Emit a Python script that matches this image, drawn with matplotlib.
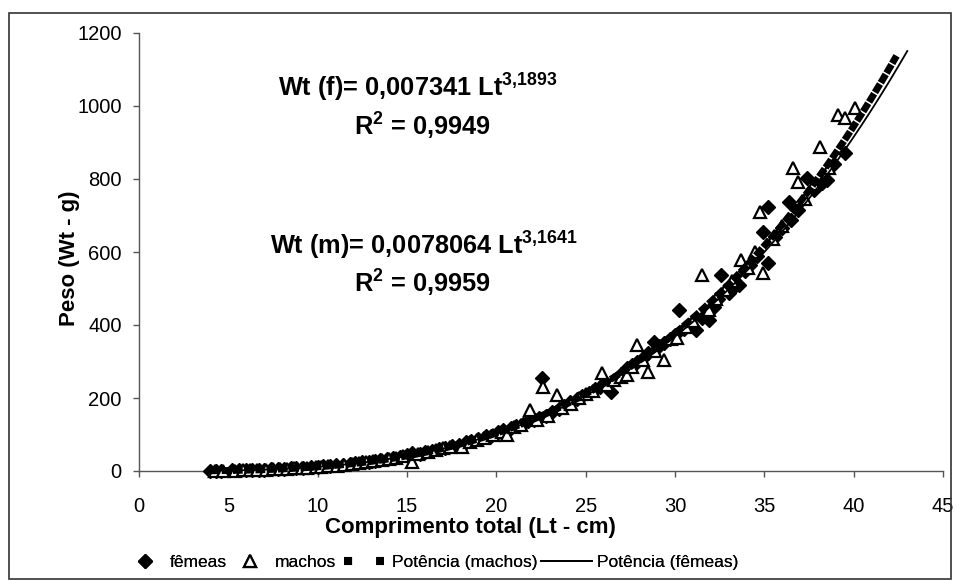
import numpy as np
import matplotlib
matplotlib.use("Agg")
import matplotlib.pyplot as plt
from matplotlib.lines import Line2D
from matplotlib.patches import Rectangle

plt.rcParams['font.family'] = ['Liberation Sans', 'DejaVu Sans']
plt.rcParams['mathtext.fontset'] = 'custom'
plt.rcParams['mathtext.rm'] = 'Liberation Sans'
plt.rcParams['mathtext.bf'] = 'Liberation Sans:bold'
plt.rcParams['mathtext.it'] = 'Liberation Sans:italic'

# ---- data ----
femeas_lt = [4.0, 4.3, 4.6, 5.2, 5.6, 6.0, 6.3, 6.7, 7.0, 7.4, 7.8, 8.1, 8.5, 8.8, 9.2, 9.6,
             10.0, 10.3, 10.7, 11.0, 11.4, 11.8, 12.1, 12.5, 12.9, 13.2, 13.5, 13.9, 14.2, 14.6,
             15.0, 15.3, 15.7, 16.0, 16.4, 16.8, 17.1, 17.5, 17.9, 18.3, 18.6, 19.0, 19.4, 19.7,
             20.1, 20.4, 20.8, 21.1, 21.5, 21.8, 22.1, 22.55, 22.4, 22.8, 23.1, 23.5, 23.8, 24.1,
             24.5, 24.8, 25.2, 25.5, 25.8, 26.1, 26.4, 26.7, 27.0, 27.3, 27.6, 27.9, 28.2, 28.5,
             28.8, 29.1, 29.4, 29.7, 30.0, 30.2, 30.5, 30.8, 31.2, 31.5, 31.9, 32.2, 32.6, 32.4,
             33.0, 33.3, 33.6, 33.9, 34.2, 34.6, 34.9, 35.2, 35.2, 35.6, 36.0, 36.4, 36.5, 36.9,
             37.4, 37.8, 38.2, 38.5, 38.9, 39.5]
femeas_wt = [0.6, 0.8, 1.0, 1.4, 1.8, 2.3, 2.6, 3.1, 3.8, 4.4, 5.2, 5.8, 6.9, 7.5, 8.8, 9.8,
             11.5, 12.8, 14.0, 15.8, 17.2, 19.6, 21.0, 23.5, 25.0, 28.0, 30.5, 32.0, 35.5, 38.0,
             44.0, 50.0, 47.0, 52.0, 56.0, 60.0, 63.0, 68.0, 72.0, 79.0, 82.0, 88.0, 95.0, 97.0,
             106.0, 112.0, 118.0, 124.0, 128.0, 136.0, 140.0, 255.0, 146.0, 152.0, 163.0, 170.0, 178.0, 190.0,
             196.0, 205.0, 213.0, 225.0, 230.0, 244.0, 216.0, 252.0, 266.0, 283.0, 290.0, 300.0, 310.0, 322.0,
             353.0, 342.0, 350.0, 362.0, 372.0, 441.0, 390.0, 400.0, 386.0, 420.0, 414.0, 448.0, 537.0, 470.0,
             488.0, 505.0, 510.0, 548.0, 565.0, 590.0, 655.0, 570.0, 723.0, 640.0, 665.0, 737.0, 688.0, 715.0,
             803.0, 770.0, 790.0, 797.0, 840.0, 871.0]

machos_lt = [4.25, 4.7, 5.4, 5.8, 6.2, 6.6, 7.1, 7.5, 7.9, 8.3, 8.7, 9.1, 9.4, 9.9, 10.2, 10.6,
             11.1, 11.5, 11.9, 12.3, 12.7, 13.1, 13.6, 14.0, 14.4, 14.8, 15.3, 15.6, 16.2, 16.6,
             17.0, 17.4, 18.1, 18.5, 18.9, 19.3, 19.8, 20.3, 20.6, 21.0, 21.4, 21.9, 22.3, 22.6,
             22.9, 23.4, 23.7, 24.2, 24.6, 25.0, 25.4, 25.9, 26.2, 26.6, 27.0, 27.3, 27.6, 27.9,
             28.2, 28.5, 28.9, 29.4, 29.8, 30.1, 30.6, 31.0, 31.5, 31.9, 32.3, 32.8, 33.2, 33.7,
             34.1, 34.5, 34.75, 34.9, 35.5, 36.0, 36.6, 36.9, 37.3, 37.8, 38.1, 38.6, 39.1, 39.5, 40.1]
machos_wt = [0.5, 0.9, 1.3, 1.6, 2.3, 2.7, 3.6, 4.6, 5.0, 6.1, 7.0, 8.2, 9.4, 10.5, 12.0, 13.0,
             15.0, 17.0, 19.0, 22.0, 24.0, 26.5, 30.0, 32.5, 36.0, 40.5, 25.0, 46.0, 53.0, 58.0,
             62.0, 66.0, 66.0, 80.0, 85.0, 91.0, 100.0, 108.0, 99.0, 121.0, 127.0, 167.0, 140.0, 230.0,
             150.0, 208.0, 173.0, 183.0, 200.0, 211.0, 218.0, 268.0, 236.0, 248.0, 258.0, 263.0, 285.0, 345.0,
             305.0, 271.0, 330.0, 304.0, 362.0, 364.0, 395.0, 410.0, 537.0, 440.0, 470.0, 495.0, 520.0, 578.0,
             555.0, 600.0, 710.0, 542.0, 635.0, 672.0, 830.0, 792.0, 745.0, 785.0, 888.0, 830.0, 975.0, 967.0, 995.0]

# power trend lines as drawn in the picture (thick square-dot line and thin solid line)
dashed_a, dashed_b = 0.007341, 3.1893
solid_a, solid_b = 0.0078064, 3.1641
dashed_range = (4.0, 42.4)
solid_range = (4.0, 43.0)

W, H = 957, 581
fig = plt.figure(figsize=(W / 100, H / 100), dpi=100)
ax = fig.add_axes([139 / W, 1 - 471 / H, (943 - 139) / W, (471 - 33) / H])

ax.plot(femeas_lt, femeas_wt, linestyle='none', marker='D', markersize=7.5,
        color='black', clip_on=False, zorder=3)
ax.plot(machos_lt, machos_wt, linestyle='none', marker='^', markersize=9,
        markerfacecolor='white', markeredgecolor='black', markeredgewidth=1.6,
        clip_on=False, zorder=3)

xm = np.linspace(dashed_range[0], dashed_range[1], 300)
ax.plot(xm, dashed_a * xm ** dashed_b, color='black', lw=5, dashes=(1.4, 0.22),
        solid_capstyle='butt', dash_capstyle='butt', zorder=4, clip_on=False)
xf = np.linspace(solid_range[0], solid_range[1], 300)
ax.plot(xf, solid_a * xf ** solid_b, color='black', lw=1.3, zorder=5, clip_on=False)

ax.set_xlim(0, 45)
ax.set_ylim(0, 1200)
ax.set_xticks(np.arange(0, 46, 5))
ax.set_yticks(np.arange(0, 1201, 200))
for s in ['top', 'right']:
    ax.spines[s].set_visible(False)
for s in ['left', 'bottom']:
    ax.spines[s].set_color('#555555')
    ax.spines[s].set_linewidth(1.0)
ax.tick_params(axis='both', direction='out', length=4.5, width=1.0, color='#555555',
               labelsize=14.5)
ax.tick_params(axis='y', pad=8)
ax.tick_params(axis='x', pad=14)

fig.text(470 / W, 1 - 527 / H, 'Comprimento total (Lt - cm)', ha='center', va='center',
         fontsize=16, fontweight='bold')
fig.text(70 / W, 1 - 258 / H, 'Peso (Wt - g)', ha='center', va='center', rotation=90,
         fontsize=16, fontweight='bold')

fig.text(418 / W, 1 - 88 / H, r'Wt (f)= 0,007341 Lt$^{\mathbf{3{,}1893}}$', ha='center',
         va='center', fontsize=18.3, fontweight='bold')
fig.text(422 / W, 1 - 126 / H, r'R$^{\mathbf{2}}$ = 0,9949', ha='center',
         va='center', fontsize=18.3, fontweight='bold')
fig.text(424 / W, 1 - 246 / H, r'Wt (m)= 0,0078064 Lt$^{\mathbf{3{,}1641}}$', ha='center',
         va='center', fontsize=18.3, fontweight='bold')
fig.text(422 / W, 1 - 283 / H, r'R$^{\mathbf{2}}$ = 0,9959', ha='center',
         va='center', fontsize=18.3, fontweight='bold')

# legend entries: (handle, label, left x px, handlelength, handletextpad)
leg_y = 1 - 562 / H
entries = [
    (Line2D([], [], linestyle='none', marker='D', markersize=7.5, color='black'),
     'fêmeas', 132.5, 1.44, 0.72),
    (Line2D([], [], linestyle='none', marker='^', markersize=9, markerfacecolor='white',
            markeredgecolor='black', markeredgewidth=1.6),
     'machos', 237.5, 1.44, 0.72),
    (Line2D([], [], color='black', lw=5.8, dashes=(1.0, 3.0), dash_capstyle='butt'),
     'Potência (machos)', 344, 2.3, 0.46),
    (Line2D([], [], color='black', lw=1.3),
     'Potência (fêmeas)', 541, 2.94, 0.29),
]
for h, lab, x0, hl, tp in entries:
    lg = fig.legend([h], [lab], loc='center left', bbox_to_anchor=(x0 / W, leg_y),
                    frameon=False, fontsize=12.5, handlelength=hl, handletextpad=tp,
                    borderaxespad=0, borderpad=0)
    fig.add_artist(lg)

fig.patches.append(Rectangle((9 / W, 1 - 579 / H), (951 - 9) / W, (579 - 13) / H,
                             transform=fig.transFigure, fill=False, edgecolor='#333333',
                             linewidth=1.2, zorder=0))

fig.savefig('out.png', dpi=100)
